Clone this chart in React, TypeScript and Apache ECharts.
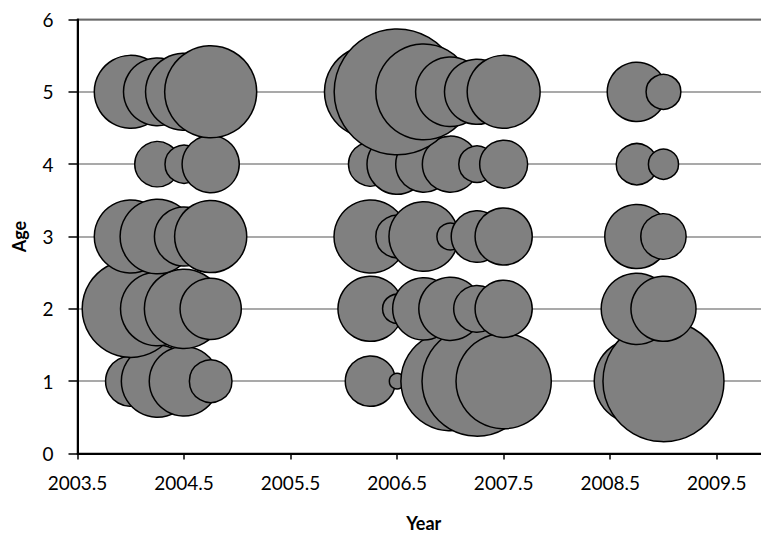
import React, { useEffect, useRef } from "react";
import * as echarts from "echarts";

// Quarter-year positions of the bubbles
const years: number[] = [2004, 2004.25, 2004.5, 2004.75, 2006.25, 2006.5, 2006.75, 2007, 2007.25, 2007.5, 2008.75, 2009];

// Ages shown on the y axis
const ages: number[] = [1, 2, 3, 4, 5];

// Bubble size values (area-proportional) per age, aligned with `years`; null = no bubble
const sizeAge1: (number | null)[] = [21, 43, 40, 15, 21, 2, null, 81, 100, 75, 60, 121];
const sizeAge2: (number | null)[] = [78, 45, 52, 31, 35, 7, 32, 33, 18, 27, 42, 35];
const sizeAge3: (number | null)[] = [44, 46, 29, 43, 44, 15, 40, 6, 22, 27, 34, 17];
const sizeAge4: (number | null)[] = [null, 17, 12, 27, 16, 30, 26, 26, 11, 19, 14, 7.5];
const sizeAge5: (number | null)[] = [44, 38, 49, 70, 70, 131, 76, 40, 35, 44, 29, 10];

const sizesByAge: (number | null)[][] = [sizeAge1, sizeAge2, sizeAge3, sizeAge4, sizeAge5];

// Axis ranges / ticks
const xMin = 2003.5;
const xMax = 2010;
const yMin = 0;
const yMax = 6;

export default function App() {
  const ref = useRef<HTMLDivElement>(null);

  useEffect(() => {
    if (!ref.current) return;
    const chart = echarts.init(ref.current, undefined, { renderer: "svg" });
    const font = "Lato, 'Open Sans', sans-serif";

    const series = ages.map((age, i) => ({
      type: "scatter" as const,
      name: "Age " + age,
      data: years
        .map((yr, j) => [yr, age, sizesByAge[i][j]])
        .filter((d) => d[2] !== null && d[2] !== undefined),
      symbolSize: (val: number[]) => 11 * Math.sqrt(val[2] as number),
      itemStyle: { color: "#808080", borderColor: "#000", borderWidth: 1.5, opacity: 1 },
      emphasis: { disabled: true },
      z: 3,
    }));

    chart.setOption({
      animation: false,
      grid: {
        left: 77.5,
        right: 10,
        top: 19.5,
        bottom: 83.5,
        show: true,
        borderColor: "#000",
        borderWidth: 1.5,
        backgroundColor: "transparent",
      },
      xAxis: {
        type: "value",
        min: xMin,
        max: xMax,
        interval: 1,
        name: "Year",
        nameLocation: "middle",
        nameGap: 60,
        nameTextStyle: { fontFamily: font, fontSize: 18, fontWeight: "bold", color: "#000" },
        axisLine: { show: true, lineStyle: { color: "#000", width: 2 } },
        axisTick: { show: true, length: 6, lineStyle: { color: "#000", width: 1.5 } },
        axisLabel: {
          fontFamily: font,
          fontSize: 19,
          color: "#000",
          margin: 19,
          showMaxLabel: false,
          formatter: (v: number) => v.toFixed(1),
        },
        splitLine: { show: false },
      },
      yAxis: {
        type: "value",
        min: yMin,
        max: yMax,
        interval: 1,
        name: "Age",
        nameLocation: "middle",
        nameGap: 50,
        nameTextStyle: { fontFamily: font, fontSize: 18, fontWeight: "bold", color: "#000" },
        axisLine: { show: true, lineStyle: { color: "#000", width: 2 } },
        axisTick: { show: true, length: 9, lineStyle: { color: "#000", width: 1.5 } },
        axisLabel: { fontFamily: font, fontSize: 19, color: "#000", margin: 24 },
        splitLine: { show: true, lineStyle: { color: "#8c8c8c", width: 1.5 } },
      },
      series,
    });

    return () => chart.dispose();
  }, []);

  return (
    <div
      style={{
        position: "fixed",
        left: 0,
        top: 0,
        width: 761,
        height: 537,
        overflow: "hidden",
        background: "#fff",
      }}
    >
      <div ref={ref} style={{ width: 780, height: 537 }} />
    </div>
  );
}
